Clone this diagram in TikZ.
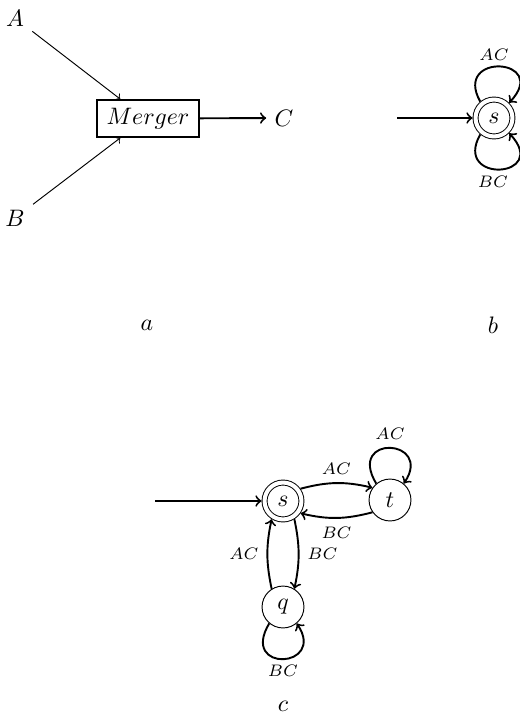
\documentclass[tikz,border=0pt]{standalone}
\begin{document}
\begin{tikzpicture}[x=0.42pt,y=-0.42pt,>=to,
 st/.style={circle,draw,line width=0.4pt,minimum size=17.6pt,inner sep=0pt},
 dst/.style={circle,draw,line width=0.4pt,double,double distance=1.7pt,minimum size=15.5pt,inner sep=0pt,outer sep=1.25pt},
 tr/.style={->,line width=0.8pt},
 thin arrow/.style={->,line width=0.4pt},
 lab/.style={font=\scriptsize}]
\clip (0,0) rectangle (520,719);
% part a
\node (A) at (15,18) {$A$};
\node (B) at (15,218) {$B$};
\node[draw,line width=0.8pt,minimum width=43pt,minimum height=15.5pt,inner sep=0pt] (M) at (148,118.5) {$Merger$};
\node (C) at (284,118) {$C$};
\draw[thin arrow] (A) -- (M.145);
\draw[thin arrow] (B) -- (M.215);
\draw[tr] (M) -- (C);
\node (la) at (147,325) {$a$};
% part b
\node[dst] (s1) at (494,118) {$s$};
\coordinate (in1) at (397,118);
\draw[tr] (in1) -- (s1);
\draw[tr] (s1.130) .. controls +(-28,-50) and +(42,-45) .. (s1.45);
\node[lab] (lab1) at (494,55) {$AC$};
\draw[tr] (s1.230) .. controls +(-28,50) and +(42,45) .. (s1.315);
\node[lab] (lab2) at (493,182) {$BC$};
\node (lb) at (493,325) {$b$};
% part c
\node[dst] (s2) at (283,501) {$s$};
\node[st] (t) at (390,500) {$t$};
\node[st] (q) at (283,607) {$q$};
\coordinate (in2) at (155,501);
\draw[tr] (in2) -- (s2);
\draw[tr] (s2.35) to[bend left=14] node[lab,above] (lab3) {$AC$} (t.145);
\draw[tr] (t.215) to[bend left=14] node[lab,below] (lab4) {$BC$} (s2.325);
\draw[tr] (t.130) .. controls +(-30,-50) and +(30,-45) .. (t.50);
\node[lab] (lab5) at (390,434) {$AC$};
\draw[tr] (s2.302) to[bend left=12] node[lab,right] (lab6) {$BC$} (q.58);
\draw[tr] (q.122) to[bend left=12] node[lab,left] (lab7) {$AC$} (s2.238);
\draw[tr] (q.230) .. controls +(-30,50) and +(30,45) .. (q.310);
\node[lab] (lab8) at (283,671) {$BC$};
\node (lc) at (283,706) {$c$};
\end{tikzpicture}
\end{document}
